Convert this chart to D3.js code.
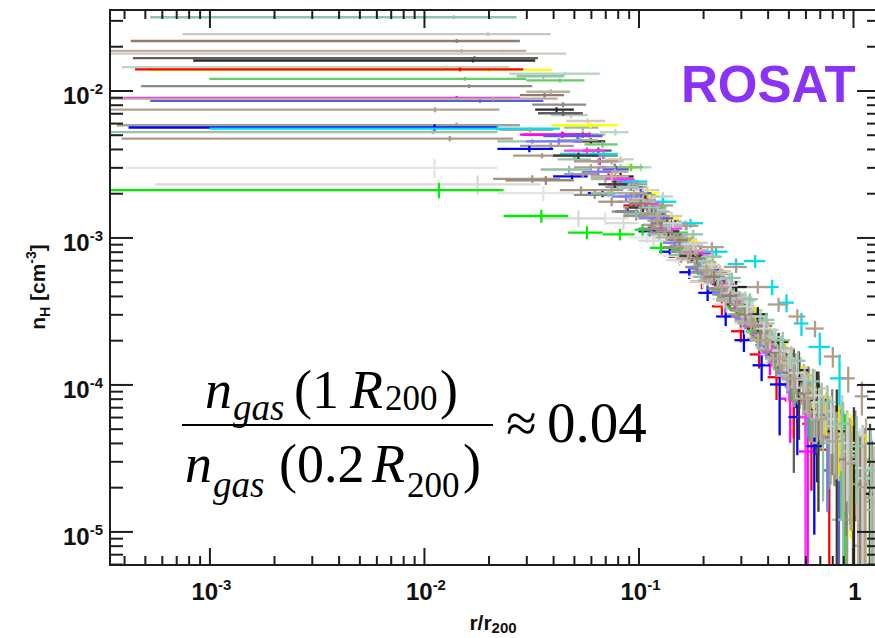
<!DOCTYPE html>
<html>
<head>
<meta charset="utf-8">
<script src="https://cdn.jsdelivr.net/npm/d3@7"></script>
<style>
  body { margin: 0; background: #fff; }
  svg { display: block; }
</style>
</head>
<body>
<svg id="chart" width="875" height="638"></svg>
<script>
// Radial gas density profiles n_H(r) of a cluster sample (ROSAT),
// one colour per cluster. Each cluster is a list of annulus edges in r/r200;
// a point sits at the annulus mid-radius, its horizontal bar spans the annulus.

const clusterColors = [
  "#8fc4ab", "#c6c6c6", "#8e7d70", "#d2cbbb", "#bcb19f", "#2a2a2a", "#5e5e5e",
  "#b5d6c8", "#ffff00", "#ff0000", "#66cc66", "#8a8a8a", "#ff00ff", "#5a5ae6",
  "#b8ac99", "#b0a493", "#ab9d8b", "#0000ff", "#00dcf0", "#98c2b0", "#a89a88",
  "#e4e4e4", "#d9d9d9", "#00ee00", "#a39483", "#9a897a", "#ae9f8c", "#7a7aff",
  "#8fbfaa", "#ff33ff", "#3c3c3c", "#c2b6a4", "#b5a794", "#f0e000", "#222222",
  "#a69887", "#9dc8b6", "#b9ada0", "#c8beb0", "#8f8172", "#a9cfc0",
  "#d0d0d0", "#b0a28f", "#94c4ae"
];

const binEdges = [
  [0.00053, 0.027, 0.045, 0.065, 0.085, 0.11, 0.14, 0.18, 0.23, 0.29, 0.37, 0.47, 0.6, 0.78],
  [0.00075, 0.039, 0.058, 0.08, 0.105, 0.135, 0.17, 0.215, 0.27, 0.34, 0.43, 0.55, 0.7],
  [0.00043, 0.028, 0.045, 0.065, 0.09, 0.12, 0.155, 0.2, 0.26, 0.33, 0.42, 0.54, 0.7, 0.9, 1.15],
  [0, 0.046, 0.07, 0.095, 0.125, 0.16, 0.21, 0.27, 0.35, 0.45, 0.58, 0.75, 0.97],
  [0, 0.03, 0.048, 0.07, 0.095, 0.125, 0.16, 0.2, 0.25, 0.32, 0.4, 0.5, 0.63, 0.8, 1.0, 1.3],
  [0.00084, 0.033, 0.05, 0.07, 0.095, 0.12, 0.15, 0.19, 0.24, 0.3, 0.38, 0.48, 0.6, 0.76],
  [0.00044, 0.034, 0.055, 0.075, 0.1, 0.13, 0.17, 0.22, 0.28, 0.36, 0.46, 0.6],
  [0.00039, 0.025, 0.066, 0.09, 0.115, 0.145, 0.185, 0.235, 0.3, 0.38, 0.48, 0.61, 0.78, 1.0],
  [0.00052, 0.0395, 0.08, 0.1, 0.125, 0.155, 0.19, 0.235, 0.29, 0.36, 0.45, 0.56, 0.7, 0.87, 1.08],
  [0.00045, 0.029, 0.06, 0.085, 0.11, 0.14, 0.175, 0.22, 0.27, 0.33, 0.4, 0.48, 0.58, 0.7, 0.85],
  [0.001, 0.03, 0.056, 0.08, 0.105, 0.135, 0.17, 0.21, 0.26, 0.32, 0.4, 0.5, 0.62, 0.78, 0.98],
  [0.00048, 0.032, 0.057, 0.08, 0.105, 0.135, 0.175, 0.225, 0.29, 0.37, 0.47, 0.6, 0.77],
  [0.0004, 0.028, 0.06, 0.072, 0.1, 0.12, 0.17, 0.22, 0.28, 0.36, 0.46, 0.56, 0.67],
  [0.00053, 0.036, 0.068, 0.09, 0.115, 0.145, 0.185, 0.235, 0.3, 0.38, 0.48, 0.6, 0.73, 0.99],
  [0, 0.042, 0.065, 0.09, 0.12, 0.155, 0.2, 0.26, 0.33, 0.42, 0.53, 0.67, 0.85, 1.08, 1.35],
  [0, 0.0225, 0.04, 0.06, 0.08, 0.105, 0.135, 0.17, 0.21, 0.26, 0.32, 0.4, 0.5, 0.63, 0.8, 1.0, 1.25],
  [0.00037, 0.028, 0.05, 0.07, 0.09, 0.115, 0.145, 0.18, 0.22, 0.27, 0.33, 0.4, 0.49, 0.6, 0.74, 0.9, 1.1],
  [0.00042, 0.022, 0.04, 0.058, 0.078, 0.1, 0.125, 0.155, 0.19, 0.23, 0.28, 0.34, 0.41, 0.5, 0.6, 0.72],
  [0.001, 0.043, 0.08, 0.11, 0.15, 0.2, 0.26, 0.31, 0.39, 0.45, 0.53, 0.62, 0.78, 0.95],
  [0, 0.022, 0.042, 0.06, 0.08, 0.1, 0.125, 0.155, 0.19, 0.23, 0.28, 0.34, 0.41, 0.5, 0.6, 0.72, 0.86, 1.02, 1.2],
  [0.00039, 0.026, 0.045, 0.065, 0.085, 0.11, 0.14, 0.175, 0.22, 0.27, 0.33, 0.4, 0.48, 0.58, 0.7, 0.85, 1.02, 1.25],
  [0.00041, 0.022, 0.05, 0.09, 0.13, 0.17, 0.22, 0.28, 0.35, 0.44, 0.55],
  [0.00056, 0.035, 0.07, 0.1, 0.135, 0.175, 0.225, 0.29, 0.37, 0.47, 0.6, 0.76, 0.95, 1.2],
  [0, 0.0235, 0.047, 0.068, 0.096, 0.113, 0.142, 0.17, 0.21, 0.26, 0.32, 0.39, 0.47, 0.57, 0.69, 0.83, 1.0, 1.2],
  [0.021, 0.043, 0.065, 0.085, 0.11, 0.14, 0.175, 0.22, 0.27, 0.33, 0.4, 0.48, 0.58, 0.7, 0.85, 1.02, 1.25],
  [0.024, 0.05, 0.075, 0.1, 0.13, 0.165, 0.21, 0.265, 0.33, 0.41, 0.5, 0.61, 0.74, 0.9, 1.1, 1.35],
  [0.05, 0.08, 0.11, 0.145, 0.19, 0.25, 0.32, 0.4, 0.5, 0.6, 0.73, 0.88, 1.02, 1.18],
  [0.03, 0.055, 0.075, 0.1, 0.13, 0.17, 0.22, 0.28, 0.35, 0.44, 0.55, 0.68, 0.84],
  [0.035, 0.06, 0.085, 0.11, 0.14, 0.18, 0.23, 0.29, 0.36, 0.45, 0.55, 0.65, 0.8, 1.0, 1.2],
  [0.045, 0.07, 0.095, 0.125, 0.16, 0.2, 0.25, 0.31, 0.38, 0.46, 0.55, 0.65],
  [0.04, 0.065, 0.09, 0.12, 0.155, 0.2, 0.255, 0.32, 0.4, 0.5, 0.62, 0.76, 0.92, 1.1, 1.3],
  [0.06, 0.09, 0.12, 0.16, 0.21, 0.27, 0.34, 0.43, 0.53, 0.65, 0.78, 0.93, 1.1, 1.3],
  [0.08, 0.11, 0.14, 0.18, 0.23, 0.29, 0.36, 0.45, 0.56, 0.7, 0.92, 1.22],
  [0.3, 0.4, 0.5, 0.6, 0.7, 0.8, 0.92, 1.06, 1.22],
  [0.25, 0.32, 0.4, 0.5, 0.62, 0.76, 0.92, 1.1, 1.3],
  [0.1, 0.12, 0.145, 0.17, 0.2, 0.235, 0.275, 0.32, 0.37, 0.43, 0.5, 0.58, 0.67, 0.78, 0.9, 1.04, 1.2, 1.36],
  [0.08, 0.1, 0.125, 0.15, 0.18, 0.215, 0.255, 0.3, 0.35, 0.41, 0.48, 0.56, 0.65, 0.76, 0.88, 1.02, 1.18, 1.36],
  [0.12, 0.15, 0.19, 0.23, 0.28, 0.33, 0.39, 0.46, 0.54, 0.63, 0.73, 0.85, 0.98, 1.13, 1.3],
  [0.15, 0.19, 0.24, 0.3, 0.37, 0.45, 0.55, 0.66, 0.8, 0.96, 1.15, 1.35],
  [0.09, 0.115, 0.14, 0.17, 0.205, 0.245, 0.29, 0.34, 0.4, 0.47, 0.55, 0.64, 0.74, 0.86, 1.0, 1.16],
  [0.2, 0.24, 0.29, 0.34, 0.4, 0.47, 0.55, 0.64, 0.75, 0.88, 1.03, 1.2],
  [0.13, 0.16, 0.2, 0.24, 0.29, 0.35, 0.42, 0.5, 0.6, 0.72, 0.86, 1.02, 1.2],
  [0.11, 0.135, 0.16, 0.19, 0.225, 0.265, 0.31, 0.36, 0.42, 0.49, 0.57, 0.66, 0.77, 0.9, 1.05, 1.22],
  [0.16, 0.2, 0.245, 0.3, 0.36, 0.43, 0.51, 0.6, 0.7, 0.82, 0.96, 1.12, 1.3]
];

// hydrogen density in each annulus [cm^-3]
const densities = [
  [3.15e-2, 1.25e-2, 5.6e-3, 3.3e-3, 2.2e-3, 1.5e-3, 1.0e-3, 6.6e-4, 4.4e-4, 2.9e-4, 1.9e-4, 1.2e-4, 7.4e-5],
  [2.42e-2, 6.8e-3, 3.6e-3, 2.3e-3, 1.55e-3, 1.05e-3, 7.2e-4, 4.8e-4, 3.2e-4, 2.1e-4, 1.35e-4, 8.6e-5],
  [2.17e-2, 9.3e-3, 5.0e-3, 3.0e-3, 1.95e-3, 1.3e-3, 8.8e-4, 5.8e-4, 3.8e-4, 2.5e-4, 1.6e-4, 1.02e-4, 6.4e-5, 3.9e-5],
  [1.78e-2, 6.2e-3, 3.4e-3, 2.1e-3, 1.4e-3, 9.2e-4, 5.9e-4, 3.7e-4, 2.35e-4, 1.5e-4, 9.4e-5, 5.8e-5],
  [1.86e-2, 9.8e-3, 5.0e-3, 3.0e-3, 1.9e-3, 1.28e-3, 8.8e-4, 6.0e-4, 4.0e-4, 2.65e-4, 1.78e-4, 1.17e-4, 7.6e-5, 4.9e-5, 3.1e-5],
  [1.6e-2, 7.4e-3, 4.5e-3, 2.6e-3, 1.8e-3, 1.28e-3, 9.0e-4, 6.1e-4, 4.2e-4, 2.8e-4, 1.8e-4, 1.15e-4, 7.2e-5],
  [1.66e-2, 7.0e-3, 3.9e-3, 2.4e-3, 1.6e-3, 1.05e-3, 6.9e-4, 4.5e-4, 2.9e-4, 1.85e-4, 1.0e-4],
  [1.44e-2, 1.3e-2, 5.2e-3, 3.0e-3, 1.9e-3, 1.22e-3, 7.9e-4, 5.0e-4, 3.2e-4, 2.05e-4, 1.3e-4, 8.2e-5, 5.0e-5],
  [1.38e-2, 5.8e-3, 3.0e-3, 2.0e-3, 1.35e-3, 9.5e-4, 6.6e-4, 4.6e-4, 3.1e-4, 2.1e-4, 1.35e-4, 8.8e-5, 5.6e-5, 3.6e-5],
  [1.39e-2, 5.0e-3, 2.6e-3, 1.65e-3, 1.1e-3, 7.4e-4, 5.0e-4, 3.4e-4, 2.3e-4, 1.6e-4, 1.12e-4, 7.8e-5, 5.4e-5, 3.6e-5],
  [1.2e-2, 1.17e-2, 4.3e-3, 3.0e-3, 1.6e-3, 1.08e-3, 7.5e-4, 5.2e-4, 3.5e-4, 2.35e-4, 1.55e-4, 1.0e-4, 6.4e-5, 4.0e-5],
  [1.07e-2, 8.0e-3, 3.6e-3, 2.2e-3, 1.45e-3, 9.6e-4, 6.3e-4, 4.1e-4, 2.65e-4, 1.7e-4, 1.08e-4, 6.8e-5],
  [8.9e-3, 5.0e-3, 3.3e-3, 2.3e-3, 1.65e-3, 1.2e-3, 7.8e-4, 4.8e-4, 2.9e-4, 1.6e-4, 8.0e-5, 3.5e-5],
  [8.5e-3, 4.9e-3, 2.9e-3, 2.0e-3, 1.35e-3, 9.0e-4, 6.0e-4, 3.9e-4, 2.5e-4, 1.6e-4, 1.0e-4, 6.0e-5, 2.6e-5],
  [8.8e-3, 4.6e-3, 2.8e-3, 1.8e-3, 1.2e-3, 8.0e-4, 5.3e-4, 3.5e-4, 2.3e-4, 1.5e-4, 9.5e-5, 6.0e-5, 3.7e-5, 2.2e-5],
  [7.4e-3, 5.4e-3, 3.6e-3, 2.5e-3, 1.75e-3, 1.22e-3, 8.6e-4, 6.1e-4, 4.3e-4, 3.0e-4, 2.05e-4, 1.4e-4, 9.5e-5, 6.3e-5, 4.1e-5, 2.6e-5],
  [5.8e-3, 4.2e-3, 3.0e-3, 2.2e-3, 1.6e-3, 1.15e-3, 8.3e-4, 6.0e-4, 4.3e-4, 3.0e-4, 2.1e-4, 1.45e-4, 1.0e-4, 6.8e-5, 4.5e-5, 2.9e-5],
  [5.6e-3, 4.0e-3, 2.6e-3, 2.0e-3, 1.5e-3, 1.1e-3, 8.0e-4, 5.8e-4, 4.2e-4, 2.9e-4, 2.0e-4, 1.35e-4, 1.0e-4, 6.0e-5, 3.8e-5],
  [5.5e-3, 3.7e-3, 2.4e-3, 1.75e-3, 1.25e-3, 8.0e-4, 6.6e-4, 6.9e-4, 4.6e-4, 3.6e-4, 2.6e-4, 1.8e-4, 1.1e-4],
  [5.2e-3, 4.5e-3, 3.4e-3, 2.5e-3, 1.9e-3, 1.45e-3, 1.1e-3, 8.1e-4, 5.9e-4, 4.3e-4, 3.1e-4, 2.2e-4, 1.55e-4, 1.08e-4, 7.5e-5, 5.2e-5, 3.6e-5, 2.4e-5],
  [4.7e-3, 3.6e-3, 2.7e-3, 2.1e-3, 1.6e-3, 1.2e-3, 8.8e-4, 6.3e-4, 4.5e-4, 3.2e-4, 2.3e-4, 1.6e-4, 1.12e-4, 7.8e-5, 5.3e-5, 3.6e-5, 2.4e-5],
  [2.97e-3, 2.0e-3, 1.35e-3, 1.0e-3, 7.5e-4, 5.4e-4, 3.8e-4, 2.6e-4, 1.75e-4, 1.15e-4],
  [2.3e-3, 1.35e-3, 1.25e-3, 9.5e-4, 7.0e-4, 5.0e-4, 3.5e-4, 2.4e-4, 1.6e-4, 1.05e-4, 6.8e-5, 4.4e-5, 2.8e-5],
  [2.1e-3, 1.4e-3, 1.08e-3, 1.05e-3, 1.13e-3, 8.5e-4, 8.3e-4, 6.2e-4, 4.5e-4, 3.3e-4, 2.3e-4, 1.6e-4, 1.1e-4, 7.4e-5, 4.8e-5, 3.0e-5, 1.8e-5],
  [2.5e-3, 2.1e-3, 1.75e-3, 1.4e-3, 1.08e-3, 8.0e-4, 5.8e-4, 4.1e-4, 2.9e-4, 2.0e-4, 1.4e-4, 9.6e-5, 6.5e-5, 4.3e-5, 2.8e-5, 1.7e-5],
  [2.45e-3, 1.95e-3, 1.5e-3, 1.15e-3, 8.6e-4, 6.3e-4, 4.5e-4, 3.2e-4, 2.2e-4, 1.55e-4, 1.05e-4, 7.0e-5, 4.6e-5, 2.9e-5, 1.8e-5],
  [3.3e-3, 2.3e-3, 1.65e-3, 1.2e-3, 8.6e-4, 6.3e-4, 4.6e-4, 3.5e-4, 2.9e-4, 2.4e-4, 1.55e-4, 1.1e-4, 8.3e-5],
  [4.5e-3, 2.8e-3, 1.9e-3, 1.35e-3, 9.2e-4, 6.2e-4, 4.2e-4, 2.8e-4, 1.85e-4, 1.2e-4, 7.5e-5, 4.5e-5],
  [2.9e-3, 2.0e-3, 1.45e-3, 1.05e-3, 7.6e-4, 5.4e-4, 3.8e-4, 2.6e-4, 1.75e-4, 1.15e-4, 7.4e-5, 4.0e-5, 1.2e-5, 8.0e-6],
  [3.9e-3, 2.5e-3, 1.7e-3, 1.15e-3, 7.9e-4, 5.4e-4, 3.7e-4, 2.5e-4, 1.65e-4, 1.1e-4, 6.0e-5],
  [3.6e-3, 2.3e-3, 1.6e-3, 1.1e-3, 7.5e-4, 5.1e-4, 3.5e-4, 2.4e-4, 1.6e-4, 1.05e-4, 6.8e-5, 4.4e-5, 2.8e-5, 1.8e-5],
  [2.6e-3, 1.75e-3, 1.2e-3, 8.2e-4, 5.6e-4, 3.8e-4, 2.6e-4, 1.75e-4, 1.15e-4, 7.6e-5, 4.9e-5, 3.2e-5, 2.1e-5],
  [2.0e-3, 1.4e-3, 9.8e-4, 6.8e-4, 4.6e-4, 3.1e-4, 2.1e-4, 1.35e-4, 8.5e-5, 4.8e-5, 1.6e-5],
  [3.0e-4, 1.9e-4, 1.3e-4, 9.2e-5, 6.6e-5, 4.8e-5, 3.4e-5, 2.3e-5],
  [4.6e-4, 3.0e-4, 1.95e-4, 1.25e-4, 7.8e-5, 4.8e-5, 2.9e-5, 1.8e-5],
  [1.45e-3, 1.1e-3, 8.6e-4, 6.8e-4, 5.3e-4, 4.1e-4, 3.2e-4, 2.5e-4, 1.9e-4, 1.45e-4, 1.1e-4, 8.2e-5, 6.0e-5, 4.4e-5, 3.2e-5, 2.3e-5, 1.6e-5],
  [2.2e-3, 1.6e-3, 1.2e-3, 9.0e-4, 6.9e-4, 5.2e-4, 3.9e-4, 2.9e-4, 2.15e-4, 1.6e-4, 1.18e-4, 8.6e-5, 6.2e-5, 4.5e-5, 3.3e-5, 2.4e-5, 1.7e-5],
  [1.0e-3, 7.2e-4, 5.1e-4, 3.7e-4, 2.7e-4, 2.0e-4, 1.5e-4, 1.1e-4, 8.0e-5, 5.8e-5, 4.2e-5, 3.0e-5, 2.1e-5, 1.4e-5],
  [9.0e-4, 6.2e-4, 4.2e-4, 2.9e-4, 2.0e-4, 1.4e-4, 9.5e-5, 6.5e-5, 4.4e-5, 3.0e-5, 2.0e-5],
  [1.7e-3, 1.25e-3, 9.6e-4, 7.2e-4, 5.4e-4, 4.0e-4, 3.0e-4, 2.25e-4, 1.65e-4, 1.2e-4, 8.7e-5, 6.2e-5, 4.4e-5, 3.1e-5, 2.1e-5],
  [7.4e-4, 5.3e-4, 3.9e-4, 2.9e-4, 2.1e-4, 1.5e-4, 1.08e-4, 7.6e-5, 5.2e-5, 3.5e-5, 2.3e-5],
  [1.25e-3, 9.0e-4, 6.5e-4, 4.7e-4, 3.4e-4, 2.4e-4, 1.7e-4, 1.2e-4, 8.4e-5, 5.8e-5, 4.0e-5, 2.7e-5],
  [1.3e-3, 1.0e-3, 7.8e-4, 6.0e-4, 4.6e-4, 3.5e-4, 2.65e-4, 2.0e-4, 1.5e-4, 1.1e-4, 8.0e-5, 5.8e-5, 4.1e-5, 2.9e-5, 2.0e-5],
  [1.05e-3, 7.4e-4, 5.3e-4, 3.8e-4, 2.75e-4, 2.0e-4, 1.45e-4, 1.05e-4, 7.6e-5, 5.4e-5, 3.8e-5, 2.6e-5]
];

// fractional 1-sigma uncertainty of each density
const relErrors = [
  [0.03, 0.04, 0.05, 0.05, 0.06, 0.07, 0.08, 0.1, 0.12, 0.16, 0.22, 0.35, 0.55],
  [0.03, 0.05, 0.06, 0.06, 0.07, 0.08, 0.1, 0.12, 0.15, 0.2, 0.3, 0.5],
  [0.03, 0.04, 0.05, 0.06, 0.06, 0.07, 0.08, 0.1, 0.12, 0.15, 0.2, 0.3, 0.45, 0.7],
  [0.02, 0.04, 0.05, 0.06, 0.07, 0.08, 0.1, 0.12, 0.16, 0.22, 0.35, 0.6],
  [0.03, 0.04, 0.05, 0.05, 0.06, 0.07, 0.08, 0.09, 0.11, 0.14, 0.18, 0.25, 0.35, 0.55, 0.9],
  [0.03, 0.04, 0.05, 0.06, 0.07, 0.08, 0.09, 0.11, 0.14, 0.18, 0.25, 0.4, 0.7],
  [0.03, 0.04, 0.05, 0.06, 0.07, 0.08, 0.1, 0.13, 0.17, 0.25, 0.75],
  [0.03, 0.03, 0.05, 0.06, 0.07, 0.08, 0.09, 0.11, 0.14, 0.18, 0.25, 0.4, 0.7],
  [0.03, 0.04, 0.05, 0.06, 0.07, 0.08, 0.09, 0.11, 0.14, 0.18, 0.25, 0.35, 0.5, 0.75],
  [0.03, 0.04, 0.05, 0.06, 0.08, 0.09, 0.11, 0.13, 0.16, 0.2, 0.3, 0.45, 0.65, 0.9],
  [0.03, 0.03, 0.05, 0.06, 0.07, 0.08, 0.09, 0.11, 0.13, 0.17, 0.22, 0.3, 0.45, 0.7],
  [0.03, 0.04, 0.05, 0.06, 0.07, 0.08, 0.1, 0.12, 0.15, 0.2, 0.3, 0.5],
  [0.03, 0.05, 0.06, 0.07, 0.08, 0.09, 0.11, 0.14, 0.18, 0.28, 0.5, 1.2],
  [0.03, 0.05, 0.06, 0.07, 0.08, 0.09, 0.1, 0.12, 0.15, 0.2, 0.3, 0.45, 0.9],
  [0.03, 0.04, 0.05, 0.06, 0.07, 0.08, 0.1, 0.12, 0.15, 0.2, 0.28, 0.4, 0.6, 1.0],
  [0.04, 0.04, 0.05, 0.06, 0.06, 0.07, 0.08, 0.09, 0.11, 0.13, 0.16, 0.2, 0.28, 0.4, 0.6, 0.95],
  [0.04, 0.05, 0.05, 0.06, 0.07, 0.07, 0.08, 0.09, 0.11, 0.13, 0.16, 0.2, 0.26, 0.36, 0.55, 0.9],
  [0.05, 0.05, 0.06, 0.06, 0.07, 0.08, 0.09, 0.1, 0.12, 0.14, 0.17, 0.22, 0.55, 0.45, 0.75],
  [0.03, 0.04, 0.05, 0.06, 0.07, 0.08, 0.09, 0.1, 0.12, 0.14, 0.18, 0.25, 0.45],
  [0.03, 0.04, 0.05, 0.05, 0.06, 0.07, 0.08, 0.09, 0.1, 0.12, 0.14, 0.17, 0.22, 0.3, 0.42, 0.6, 0.85, 1.2],
  [0.04, 0.04, 0.05, 0.06, 0.06, 0.07, 0.08, 0.09, 0.1, 0.12, 0.15, 0.19, 0.25, 0.34, 0.5, 0.75, 1.1],
  [0.15, 0.12, 0.1, 0.09, 0.1, 0.11, 0.13, 0.16, 0.22, 0.35],
  [0.15, 0.13, 0.1, 0.09, 0.09, 0.1, 0.12, 0.14, 0.18, 0.24, 0.34, 0.5, 0.8],
  [0.12, 0.1, 0.1, 0.09, 0.09, 0.09, 0.1, 0.1, 0.12, 0.14, 0.17, 0.22, 0.3, 0.45, 0.7, 1.1, 1.5],
  [0.06, 0.06, 0.07, 0.07, 0.08, 0.09, 0.1, 0.11, 0.13, 0.16, 0.2, 0.27, 0.38, 0.55, 0.85, 1.3],
  [0.07, 0.06, 0.07, 0.08, 0.09, 0.1, 0.11, 0.13, 0.16, 0.2, 0.27, 0.37, 0.55, 0.85, 1.3],
  [0.05, 0.06, 0.06, 0.07, 0.08, 0.09, 0.1, 0.11, 0.12, 0.13, 0.16, 0.2, 0.26],
  [0.05, 0.06, 0.07, 0.08, 0.09, 0.1, 0.12, 0.15, 0.2, 0.28, 0.42, 0.7],
  [0.06, 0.06, 0.07, 0.08, 0.09, 0.1, 0.12, 0.15, 0.19, 0.25, 0.35, 0.6, 1.6, 2.0],
  [0.05, 0.06, 0.07, 0.08, 0.09, 0.1, 0.12, 0.15, 0.2, 0.3, 1.1],
  [0.05, 0.06, 0.07, 0.08, 0.09, 0.1, 0.12, 0.15, 0.2, 0.6, 0.8, 1.1, 1.5, 2.0],
  [0.06, 0.07, 0.08, 0.09, 0.1, 0.11, 0.13, 0.16, 0.2, 0.28, 0.4, 0.6, 0.9],
  [0.06, 0.07, 0.08, 0.09, 0.1, 0.12, 0.15, 0.2, 0.3, 0.5, 1.4],
  [0.12, 0.15, 0.2, 0.26, 0.34, 0.5, 0.7, 1.0],
  [0.1, 0.12, 0.15, 0.2, 0.3, 0.5, 0.8, 1.3],
  [0.06, 0.07, 0.07, 0.08, 0.09, 0.1, 0.11, 0.13, 0.15, 0.18, 0.22, 0.28, 0.36, 0.48, 0.65, 0.9, 1.3],
  [0.06, 0.06, 0.07, 0.08, 0.09, 0.1, 0.11, 0.12, 0.14, 0.17, 0.2, 0.26, 0.33, 0.45, 0.6, 0.85, 1.2],
  [0.07, 0.08, 0.09, 0.1, 0.11, 0.13, 0.15, 0.18, 0.23, 0.3, 0.4, 0.55, 0.8, 1.2],
  [0.08, 0.09, 0.1, 0.12, 0.14, 0.17, 0.22, 0.3, 0.42, 0.6, 0.9],
  [0.06, 0.07, 0.08, 0.08, 0.09, 0.1, 0.11, 0.13, 0.15, 0.18, 0.23, 0.3, 0.45, 0.7, 1.1],
  [0.08, 0.09, 0.1, 0.11, 0.13, 0.15, 0.19, 0.25, 0.35, 0.5, 0.8],
  [0.07, 0.08, 0.09, 0.1, 0.12, 0.14, 0.17, 0.22, 0.3, 0.42, 0.6, 0.9],
  [0.06, 0.07, 0.08, 0.09, 0.1, 0.11, 0.12, 0.14, 0.16, 0.2, 0.25, 0.32, 0.45, 0.65, 1.0],
  [0.07, 0.08, 0.09, 0.1, 0.12, 0.14, 0.17, 0.22, 0.3, 0.42, 0.6, 0.9]
];

// axis decades that carry a label
const xMajorTicks = [1e-3, 1e-2, 1e-1, 1];
const yMajorTicks = [1e-5, 1e-4, 1e-3, 1e-2];
const xDomain = [3.44e-4, 1.336];
const yDomain = [5.91e-6, 3.528e-2];

const svg = d3.select("#chart");
const W = 875, H = 638;
const box = { left: 110, right: 880, top: 10, bottom: 565 };

const x = d3.scaleLog().domain(xDomain).range([box.left, box.right]);
const y = d3.scaleLog().domain(yDomain).range([box.bottom, box.top]);

svg.append("rect").attr("width", W).attr("height", H).attr("fill", "#fff");

svg.append("defs").append("clipPath").attr("id", "plotClip")
  .append("rect")
  .attr("x", box.left).attr("y", box.top)
  .attr("width", box.right - box.left).attr("height", box.bottom - box.top);

// ---- error-bar crosses ----
const marks = svg.append("g").attr("clip-path", "url(#plotClip)")
  .attr("stroke-width", 2.3).attr("fill", "none");

clusterColors.forEach((color, i) => {
  const edges = binEdges[i], dens = densities[i], errs = relErrors[i];
  const g = marks.append("g").attr("stroke", color);
  const nBins = Math.min(edges.length - 1, dens.length, errs.length);
  for (let j = 0; j < nBins; j++) {
    const lo = Math.max(edges[j], xDomain[0] / 4);
    const hi = edges[j + 1];
    const r = (edges[j] + edges[j + 1]) / 2;
    const n = dens[j];
    const e = errs[j] * n;
    const yc = y(n);
    g.append("line")
      .attr("x1", x(lo)).attr("x2", x(hi))
      .attr("y1", yc).attr("y2", yc);
    const yTop = y(n + e);
    const yBot = (n - e) > 0 ? y(n - e) : box.bottom + 10;
    g.append("line")
      .attr("x1", x(r)).attr("x2", x(r))
      .attr("y1", yTop).attr("y2", yBot);
  }
});

// ---- frame and inward ticks on all four sides ----
const axisColor = "#1e1e1e";
function minorTicks(domain) {
  const out = [];
  const d0 = Math.floor(Math.log10(domain[0])), d1 = Math.ceil(Math.log10(domain[1]));
  for (let d = d0; d <= d1; d++) {
    for (let k = 2; k <= 9; k++) {
      const v = k * Math.pow(10, d);
      if (v > domain[0] && v < domain[1]) out.push(v);
    }
  }
  return out;
}
const xMinor = minorTicks(xDomain), yMinor = minorTicks(yDomain);

const axes = svg.append("g").attr("stroke", axisColor).attr("stroke-width", 2);

function addAxis(axisGen, transform, values, size) {
  const g = axes.append("g").attr("transform", transform)
    .call(axisGen.tickValues(values).tickSize(size).tickFormat(""));
  g.select(".domain").remove();
  g.selectAll(".tick line").attr("stroke", axisColor).attr("stroke-width", 2);
}
addAxis(d3.axisBottom(x), `translate(0,${box.bottom})`, xMajorTicks, -17);
addAxis(d3.axisBottom(x), `translate(0,${box.bottom})`, xMinor, -9);
addAxis(d3.axisTop(x), `translate(0,${box.top})`, xMajorTicks, -18);
addAxis(d3.axisTop(x), `translate(0,${box.top})`, xMinor, -9);
addAxis(d3.axisLeft(y), `translate(${box.left},0)`, yMajorTicks, -23);
addAxis(d3.axisLeft(y), `translate(${box.left},0)`, yMinor, -13);
addAxis(d3.axisRight(y), `translate(${box.right},0)`, yMajorTicks, -23);
addAxis(d3.axisRight(y), `translate(${box.right},0)`, yMinor, -13);

svg.append("rect")
  .attr("x", box.left).attr("y", box.top)
  .attr("width", box.right - box.left).attr("height", box.bottom - box.top)
  .attr("fill", "none").attr("stroke", axisColor).attr("stroke-width", 2);

// ---- tick labels: powers of ten ----
const sansBold = "'Liberation Sans', Arial, Helvetica, sans-serif";
function powerLabel(sel, v) {
  const p = Math.round(Math.log10(v));
  if (p === 0) { sel.append("tspan").text("1"); return; }
  sel.append("tspan").text("10");
  sel.append("tspan").attr("dy", -10).attr("font-size", 15).text(String(p));
}
const labels = svg.append("g")
  .attr("font-family", sansBold).attr("font-weight", "bold")
  .attr("font-size", 24).attr("fill", "#111");

xMajorTicks.forEach(v => {
  const t = labels.append("text")
    .attr("x", x(v) + 2).attr("y", 600)
    .attr("text-anchor", "middle");
  powerLabel(t, v);
});
yMajorTicks.forEach(v => {
  const t = labels.append("text")
    .attr("x", 103).attr("y", y(v) + 14)
    .attr("text-anchor", "end");
  powerLabel(t, v);
});

// ---- axis titles ----
const xt = svg.append("text")
  .attr("x", 493).attr("y", 630).attr("text-anchor", "middle")
  .attr("font-family", sansBold).attr("font-weight", "bold")
  .attr("font-size", 21).attr("fill", "#111");
xt.append("tspan").text("r/r");
xt.append("tspan").attr("dy", 3).attr("font-size", 15).text("200");

const yt = svg.append("text")
  .attr("transform", "translate(45,287) rotate(-90)")
  .attr("text-anchor", "middle")
  .attr("font-family", sansBold).attr("font-weight", "bold")
  .attr("font-size", 21).attr("fill", "#111");
yt.append("tspan").text("n");
yt.append("tspan").attr("dy", 5).attr("font-size", 14).text("H");
yt.append("tspan").attr("dy", -5).text(" [cm");
yt.append("tspan").attr("dy", -9).attr("font-size", 14).text("-3");
yt.append("tspan").attr("dy", 9).text("]");

// ---- instrument tag ----
svg.append("text")
  .attr("x", 681).attr("y", 102)
  .attr("font-family", sansBold).attr("font-weight", "bold")
  .attr("font-size", 51).attr("fill", "#8a33f7")
  .text("ROSAT");

// ---- density ratio annotation ----
const serif = "'Liberation Serif', 'Times New Roman', Times, serif";
const eq = svg.append("g").attr("font-family", serif).attr("fill", "#000");
function put(txt, px, py, size, italic) {
  eq.append("text").attr("x", px).attr("y", py)
    .attr("font-size", size).attr("font-style", italic ? "italic" : "normal")
    .text(txt);
}
// numerator
put("n", 205, 408, 54, true);
put("gas", 233, 420, 37, true);
put("(1", 294, 408, 54, false);
put("R", 350, 408, 54, true);
put("200", 385, 410, 35, false);
put(")", 440, 408, 54, false);
// fraction bar
eq.append("line").attr("x1", 182).attr("x2", 493).attr("y1", 425).attr("y2", 425)
  .attr("stroke", "#000").attr("stroke-width", 2.2);
// denominator
put("n", 185, 482, 54, true);
put("gas", 213, 497, 37, true);
put("(0.2", 279, 482, 54, false);
put("R", 372, 482, 54, true);
put("200", 407, 497, 35, false);
put(")", 463, 482, 54, false);
// ratio value
put("\u2248", 506, 442, 56, false);
put("0.04", 547, 442, 57, false);
</script>
</body>
</html>
